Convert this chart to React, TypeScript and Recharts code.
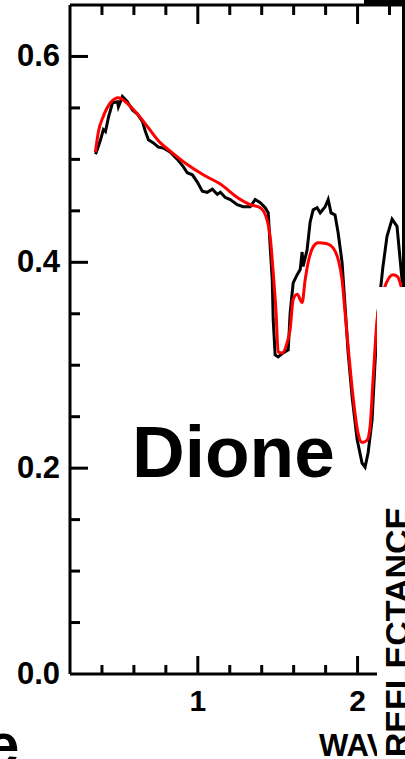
import React from 'react';
import { LineChart, Line, XAxis, YAxis } from 'recharts';

// Dione spectrum: measured (black) and model (red)
const blackWl = [0.36, 0.372, 0.391, 0.409, 0.422, 0.441, 0.466, 0.497, 0.503, 0.528, 0.559, 0.591, 0.622, 0.653, 0.672, 0.691, 0.722, 0.753, 0.784, 0.828, 0.872, 0.909, 0.934, 0.966, 0.997, 1.028, 1.059, 1.091, 1.122, 1.141, 1.172, 1.203, 1.247, 1.284, 1.328, 1.359, 1.391, 1.422, 1.441, 1.453, 1.466, 1.472, 1.484, 1.503, 1.534, 1.566, 1.578, 1.597, 1.622, 1.641, 1.653, 1.659, 1.684, 1.703, 1.722, 1.747, 1.766, 1.797, 1.816, 1.834, 1.859, 1.878, 1.903, 1.922, 1.941, 1.966, 1.997, 2.028, 2.047, 2.066, 2.091, 2.109, 2.128, 2.159, 2.184, 2.216, 2.247, 2.28];
const blackRefl = [0.505, 0.51, 0.519, 0.529, 0.527, 0.541, 0.555, 0.556, 0.551, 0.561, 0.556, 0.548, 0.544, 0.537, 0.527, 0.519, 0.516, 0.512, 0.511, 0.507, 0.5, 0.493, 0.487, 0.485, 0.478, 0.469, 0.468, 0.471, 0.466, 0.468, 0.463, 0.461, 0.456, 0.454, 0.454, 0.461, 0.458, 0.453, 0.448, 0.415, 0.383, 0.344, 0.31, 0.308, 0.312, 0.315, 0.351, 0.38, 0.388, 0.393, 0.41, 0.396, 0.412, 0.439, 0.451, 0.453, 0.448, 0.454, 0.461, 0.448, 0.446, 0.429, 0.4, 0.357, 0.312, 0.269, 0.228, 0.205, 0.201, 0.215, 0.247, 0.302, 0.351, 0.396, 0.425, 0.442, 0.435, 0.38];

const redWl = [0.359, 0.378, 0.409, 0.453, 0.503, 0.547, 0.622, 0.684, 0.766, 0.828, 0.934, 1.034, 1.141, 1.247, 1.328, 1.391, 1.434, 1.453, 1.472, 1.49, 1.503, 1.528, 1.559, 1.578, 1.597, 1.622, 1.653, 1.672, 1.691, 1.722, 1.753, 1.809, 1.847, 1.878, 1.903, 1.922, 1.941, 1.972, 2.003, 2.028, 2.059, 2.078, 2.097, 2.122, 2.15, 2.18, 2.222, 2.25, 2.28];
const redRefl = [0.507, 0.527, 0.542, 0.555, 0.56, 0.556, 0.544, 0.532, 0.516, 0.508, 0.495, 0.485, 0.476, 0.463, 0.456, 0.453, 0.441, 0.425, 0.39, 0.351, 0.313, 0.312, 0.322, 0.335, 0.364, 0.369, 0.361, 0.383, 0.4, 0.415, 0.419, 0.418, 0.414, 0.403, 0.383, 0.351, 0.318, 0.269, 0.234, 0.225, 0.227, 0.24, 0.286, 0.344, 0.366, 0.38, 0.388, 0.386, 0.372];

const xTicks = [0.4, 0.6, 0.8, 1.0, 1.2, 1.4, 1.6, 1.8, 2.0, 2.2];
const xLabeled = [1, 2];
const yTicks = [0, 0.05, 0.1, 0.15, 0.2, 0.25, 0.3, 0.35, 0.4, 0.45, 0.5, 0.55, 0.6];
const yLabeled = [0, 0.2, 0.4, 0.6];

const blackData = blackWl.map((wl, i) => ({ wl, r: blackRefl[i] }));
const redData = redWl.map((wl, i) => ({ wl, r: redRefl[i] }));

const FONT = '"Liberation Sans", Arial, sans-serif';

const isIn = (v: number, arr: number[]) => arr.some((a) => Math.abs(a - v) < 1e-6);

const BottomTick = (props: any) => {
  const { x, y, payload } = props;
  const major = isIn(payload.value, xLabeled);
  return (
    <g>
      <line x1={x} y1={y} x2={x} y2={y - (major ? 18 : 9)} stroke="#000" strokeWidth={3} />
      {major && (
        <text x={x} y={y + 37} textAnchor="middle" fontFamily={FONT} fontWeight="bold" fontSize={30} fill="#000">
          {String(payload.value)}
        </text>
      )}
    </g>
  );
};

const TopTick = (props: any) => {
  const { x, y, payload } = props;
  const major = isIn(payload.value, xLabeled);
  return <line x1={x} y1={y} x2={x} y2={y + (major ? 19 : 10)} stroke="#000" strokeWidth={3} />;
};

const LeftTick = (props: any) => {
  const { x, y, payload } = props;
  const major = isIn(payload.value, yLabeled);
  return (
    <g>
      {payload.value > 0.001 && (
        <line x1={x} y1={y} x2={x + (major ? 18 : 10)} y2={y} stroke="#000" strokeWidth={3} />
      )}
      {major && (
        <text x={x - 10} y={y + 10} textAnchor="end" fontFamily={FONT} fontWeight="bold" fontSize={31} fill="#000">
          {payload.value.toFixed(1)}
        </text>
      )}
    </g>
  );
};

export default function App() {
  return (
    <div style={{ position: 'absolute', left: 0, top: 0, width: 405, height: 759, background: '#fff' }}>
      <LineChart width={405} height={759} margin={{ top: 4, right: 0.5, bottom: 84, left: 69 }}>
        <XAxis
          xAxisId="bottom"
          type="number"
          dataKey="wl"
          domain={[0.2, 2.2875]}
          ticks={xTicks}
          interval={0}
          height={1}
          tickSize={0}
          tickMargin={0}
          tickLine={false}
          axisLine={{ stroke: '#000', strokeWidth: 3 }}
          tick={<BottomTick />}
          allowDataOverflow
        />
        <XAxis
          xAxisId="top"
          orientation="top"
          type="number"
          dataKey="wl"
          domain={[0.2, 2.2875]}
          ticks={xTicks}
          interval={0}
          height={1}
          tickSize={0}
          tickMargin={0}
          tickLine={false}
          axisLine={{ stroke: '#000', strokeWidth: 3 }}
          tick={<TopTick />}
          allowDataOverflow
        />
        <YAxis
          yAxisId="left"
          type="number"
          domain={[0, 0.65]}
          ticks={yTicks}
          interval={0}
          width={1}
          tickSize={0}
          tickMargin={0}
          tickLine={false}
          axisLine={{ stroke: '#000', strokeWidth: 3 }}
          tick={<LeftTick />}
          allowDataOverflow
        />
        <YAxis
          yAxisId="right"
          orientation="right"
          type="number"
          domain={[0, 0.65]}
          width={1}
          tick={false}
          tickLine={false}
          axisLine={{ stroke: '#000', strokeWidth: 3 }}
        />
        <Line
          xAxisId="bottom"
          yAxisId="left"
          data={blackData}
          dataKey="r"
          type="linear"
          stroke="#000"
          strokeWidth={3}
          dot={false}
          isAnimationActive={false}
        />
        <Line
          xAxisId="bottom"
          yAxisId="left"
          data={redData}
          dataKey="r"
          type="monotone"
          stroke="#ff0000"
          strokeWidth={3}
          dot={false}
          isAnimationActive={false}
        />
      </LineChart>
      <svg
        width={405}
        height={759}
        style={{ position: 'absolute', left: 0, top: 0, pointerEvents: 'none' }}
      >
        <text x={132} y={477} fontFamily={FONT} fontWeight="bold" fontSize={73} fill="#000">
          Dione
        </text>
        <text x={319} y={756} fontFamily={FONT} fontWeight="bold" fontSize={31} fill="#000">
          WAVELENGTH
        </text>
        <text x={-14} y={765} fontFamily={FONT} fontWeight="bold" fontSize={60} fill="#000">
          e
        </text>
        <rect x={377} y={287} width={28} height={472} fill="#fff" />
        <rect x={364} y={0} width={41} height={6} fill="#000" />
        <text
          x={0}
          y={0}
          transform="translate(409,632) rotate(-90)"
          textAnchor="middle"
          fontFamily={FONT}
          fontWeight="bold"
          fontSize={34}
          fill="#000"
        >
          REFLECTANCE
        </text>
      </svg>
    </div>
  );
}
